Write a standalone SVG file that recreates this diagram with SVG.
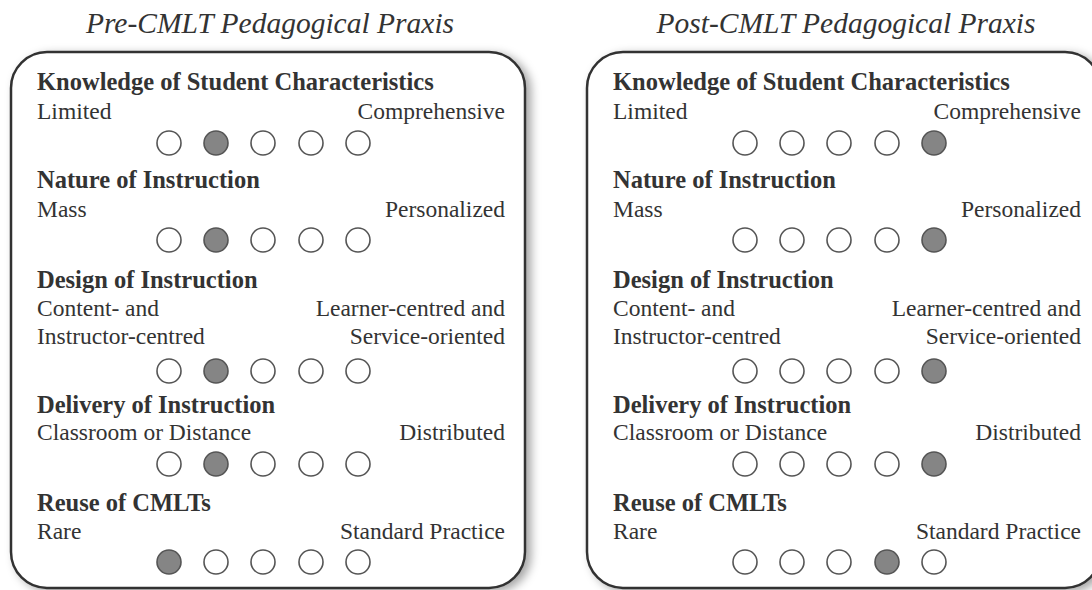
<svg xmlns="http://www.w3.org/2000/svg" width="1092" height="590" viewBox="0 0 1092 590">
  <defs>
    <filter id="shadow" x="-10%" y="-10%" width="125%" height="125%">
      <feDropShadow dx="5" dy="3" stdDeviation="5" flood-color="#000" flood-opacity="0.35"/>
    </filter>
    <circle id="dot" r="12" class="dot"/>
    <circle id="dotOn" r="12" class="dot on"/>
  </defs>
  <style>
    text { font-family: "Liberation Serif", "Times New Roman", serif; fill: #333; }
    .title { font-size: 29.5px; font-style: italic; text-anchor: middle; }
    .head { font-size: 24.5px; font-weight: bold; }
    .lbl { font-size: 23.5px; }
    .r { text-anchor: end; }
    .box { fill: #fff; stroke: #333; stroke-width: 2.5; }
    .dot { fill: #fff; stroke: #555; stroke-width: 1.6; }
    .dot.on { fill: #858585; }
  </style>
  <rect width="1092" height="590" fill="#fff"/>

  <!-- Left panel: before -->
  <g id="pre">
    <text class="title" x="270" y="33">Pre-CMLT Pedagogical Praxis</text>
    <rect class="box" x="11" y="52" width="514" height="536" rx="36" filter="url(#shadow)"/>
    <g id="pre-knowledge">
      <text class="head" x="37" y="90">Knowledge of Student Characteristics</text>
      <text class="lbl" x="37" y="119">Limited</text>
      <text class="lbl r" x="505" y="119">Comprehensive</text>
      <use href="#dot" x="169" y="143"/><use href="#dotOn" x="216" y="143"/><use href="#dot" x="263" y="143"/><use href="#dot" x="311" y="143"/><use href="#dot" x="358" y="143"/>
    </g>
    <g id="pre-nature">
      <text class="head" x="37" y="188">Nature of Instruction</text>
      <text class="lbl" x="37" y="217">Mass</text>
      <text class="lbl r" x="505" y="217">Personalized</text>
      <use href="#dot" x="169" y="240"/><use href="#dotOn" x="216" y="240"/><use href="#dot" x="263" y="240"/><use href="#dot" x="311" y="240"/><use href="#dot" x="358" y="240"/>
    </g>
    <g id="pre-design">
      <text class="head" x="37" y="288">Design of Instruction</text>
      <text class="lbl" x="37" y="316">Content- and</text>
      <text class="lbl r" x="505" y="316">Learner-centred and</text>
      <text class="lbl" x="37" y="344">Instructor-centred</text>
      <text class="lbl r" x="505" y="344">Service-oriented</text>
      <use href="#dot" x="169" y="371"/><use href="#dotOn" x="216" y="371"/><use href="#dot" x="263" y="371"/><use href="#dot" x="311" y="371"/><use href="#dot" x="358" y="371"/>
    </g>
    <g id="pre-delivery">
      <text class="head" x="37" y="413">Delivery of Instruction</text>
      <text class="lbl" x="37" y="440">Classroom or Distance</text>
      <text class="lbl r" x="505" y="440">Distributed</text>
      <use href="#dot" x="169" y="464"/><use href="#dotOn" x="216" y="464"/><use href="#dot" x="263" y="464"/><use href="#dot" x="311" y="464"/><use href="#dot" x="358" y="464"/>
    </g>
    <g id="pre-reuse">
      <text class="head" x="37" y="511">Reuse of CMLTs</text>
      <text class="lbl" x="37" y="539">Rare</text>
      <text class="lbl r" x="505" y="539">Standard Practice</text>
      <use href="#dotOn" x="169" y="562"/><use href="#dot" x="216" y="562"/><use href="#dot" x="263" y="562"/><use href="#dot" x="311" y="562"/><use href="#dot" x="358" y="562"/>
    </g>
  </g>

  <!-- Right panel: after (same layout shifted 576px) -->
  <g id="post" transform="translate(576 0)">
    <text class="title" x="270" y="33">Post-CMLT Pedagogical Praxis</text>
    <rect class="box" x="11" y="52" width="514" height="536" rx="36" filter="url(#shadow)"/>
    <g id="post-knowledge">
      <text class="head" x="37" y="90">Knowledge of Student Characteristics</text>
      <text class="lbl" x="37" y="119">Limited</text>
      <text class="lbl r" x="505" y="119">Comprehensive</text>
      <use href="#dot" x="169" y="143"/><use href="#dot" x="216" y="143"/><use href="#dot" x="263" y="143"/><use href="#dot" x="311" y="143"/><use href="#dotOn" x="358" y="143"/>
    </g>
    <g id="post-nature">
      <text class="head" x="37" y="188">Nature of Instruction</text>
      <text class="lbl" x="37" y="217">Mass</text>
      <text class="lbl r" x="505" y="217">Personalized</text>
      <use href="#dot" x="169" y="240"/><use href="#dot" x="216" y="240"/><use href="#dot" x="263" y="240"/><use href="#dot" x="311" y="240"/><use href="#dotOn" x="358" y="240"/>
    </g>
    <g id="post-design">
      <text class="head" x="37" y="288">Design of Instruction</text>
      <text class="lbl" x="37" y="316">Content- and</text>
      <text class="lbl r" x="505" y="316">Learner-centred and</text>
      <text class="lbl" x="37" y="344">Instructor-centred</text>
      <text class="lbl r" x="505" y="344">Service-oriented</text>
      <use href="#dot" x="169" y="371"/><use href="#dot" x="216" y="371"/><use href="#dot" x="263" y="371"/><use href="#dot" x="311" y="371"/><use href="#dotOn" x="358" y="371"/>
    </g>
    <g id="post-delivery">
      <text class="head" x="37" y="413">Delivery of Instruction</text>
      <text class="lbl" x="37" y="440">Classroom or Distance</text>
      <text class="lbl r" x="505" y="440">Distributed</text>
      <use href="#dot" x="169" y="464"/><use href="#dot" x="216" y="464"/><use href="#dot" x="263" y="464"/><use href="#dot" x="311" y="464"/><use href="#dotOn" x="358" y="464"/>
    </g>
    <g id="post-reuse">
      <text class="head" x="37" y="511">Reuse of CMLTs</text>
      <text class="lbl" x="37" y="539">Rare</text>
      <text class="lbl r" x="505" y="539">Standard Practice</text>
      <use href="#dot" x="169" y="562"/><use href="#dot" x="216" y="562"/><use href="#dot" x="263" y="562"/><use href="#dotOn" x="311" y="562"/><use href="#dot" x="358" y="562"/>
    </g>
  </g>
</svg>
